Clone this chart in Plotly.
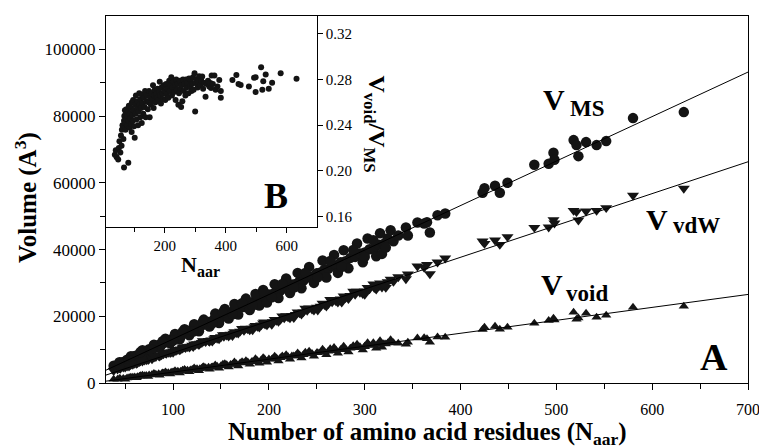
import plotly.graph_objects as go
import numpy as np

# ---------------- data ----------------
n_res_mid = [38, 42, 45, 48, 52, 55, 58, 60, 63, 65, 68, 70, 72, 75, 78, 80, 82, 85, 88, 90,
             93, 95, 98, 100, 103, 105, 108, 110, 113, 115, 118, 120, 123, 125, 128, 130, 134, 137, 140, 143,
             146, 150, 153, 156, 160, 163, 166, 170, 174, 178, 182, 185, 188, 192, 196, 200, 204, 208, 212, 216,
             220, 224, 228, 232, 236, 240, 245, 250, 254, 258, 262, 266, 270, 275, 280, 285, 290, 295, 300, 305,
             310, 315, 320, 324, 330]
ms_mid = [5200, 5400, 6100, 6300, 7000, 7200, 7800, 8100, 8200, 8800, 9000, 9400, 9300, 10100, 10200, 10800, 10700, 11400, 11500, 12100,
          12200, 12800, 12900, 13400, 13600, 14100, 14200, 14800, 14900, 15400, 15500, 16100, 16200, 16700, 16800, 17400, 17600, 18300, 18400, 19100,
          19200, 19900, 20000, 20800, 21000, 21700, 21800, 22600, 22800, 23600, 23800, 24500, 24600, 25500, 25700, 26500, 26700, 27500, 27700, 28500,
          28700, 29500, 29700, 30500, 30700, 31600, 31900, 32900, 33100, 34000, 34200, 35100, 35300, 36200, 36500, 37500, 37800, 38800, 39100, 40100,
          40400, 41400, 41700, 43300, 42500]
vdw_mid = [3700, 4150, 4350, 4750, 5000, 5400, 5550, 5850, 6050, 6350, 6500, 6800, 6900, 7300, 7450, 7750, 7850, 8200, 8400, 8700,
           8850, 9150, 9300, 9550, 9700, 10000, 10150, 10400, 10550, 10850, 11000, 11250, 11400, 11700, 11850, 12100, 12350, 12700, 12850, 13200,
           13350, 13800, 13950, 14300, 14550, 14900, 15050, 15500, 15750, 16200, 16400, 16800, 16950, 17350, 17600, 18050, 18300, 18750, 19000, 19500,
           19750, 20200, 20500, 20950, 21250, 21750, 22100, 22700, 23000, 23450, 23750, 24250, 24550, 25150, 25550, 26150, 26550, 27150, 27550, 28150,
           28550, 29150, 29550, 30300, 30400]
void_mid = [1100, 1150, 1300, 1350, 1500, 1550, 1700, 1800, 1850, 2000, 2100, 2200, 2250, 2400, 2450, 2600, 2600, 2750, 2800, 2950,
            3000, 3100, 3200, 3300, 3350, 3500, 3550, 3650, 3700, 3850, 3900, 4050, 4100, 4250, 4300, 4450, 4550, 4700, 4750, 4950,
            5000, 5200, 5250, 5450, 5550, 5750, 5800, 6000, 6100, 6300, 6400, 6600, 6650, 6900, 7000, 7200, 7300, 7500, 7600, 7800,
            7900, 8100, 8200, 8400, 8500, 8700, 8850, 9100, 9200, 9400, 9500, 9700, 9800, 10050, 10200, 10450, 10600, 10850, 11000, 11250,
            11400, 11650, 11800, 12000, 12100]

n_res_low = [50, 62, 74, 86, 97, 107, 117, 127, 138, 148, 158, 168, 180, 190, 198, 210, 222, 234, 247, 260, 272, 283, 298, 312, 318]
ms_low = [6000, 7700, 9100, 10600, 11900, 13100, 14300, 15500, 16900, 18000, 19300, 20500, 21900, 23200, 24100, 25500, 27000, 28400,
          30000, 31600, 33000, 34400, 36200, 38000, 38700]
vdw_low = [4730, 5850, 6970, 8040, 9070, 9900, 10680, 11500, 12430, 13210, 14040, 14920, 15890, 16720, 17360, 18430, 19500, 20570,
           21790, 23010, 24180, 25250, 26720, 28080, 28670]
void_low = [1150, 1550, 1950, 2350, 2700, 3000, 3400, 3700, 4100, 4400, 4800, 5100, 5600, 5900, 6200, 6600, 7100, 7500,
            8000, 8500, 8900, 9300, 9900, 10400, 10700]

n_res_high = [56, 68, 80, 92, 102, 112, 122, 132, 144, 154, 164, 176, 186, 194, 206, 218, 230, 242, 256, 268, 278, 292, 303, 316, 327]
ms_high = [8000, 9800, 11500, 13300, 14700, 16100, 17600, 19000, 20800, 22200, 23700, 25300, 26700, 27900, 29600, 31300, 33000, 34800,
           36700, 38400, 39800, 41800, 43300, 44900, 45800]
vdw_high = [5540, 6710, 7890, 9020, 9890, 10760, 11630, 12510, 13580, 14450, 15320, 16350, 17170, 17940, 19010, 20090, 21220, 22450,
            23830, 25010, 26040, 27470, 28600, 29930, 31060]
void_high = [1700, 2300, 2850, 3300, 3700, 4050, 4500, 4900, 5400, 5750, 6300, 6700, 7250, 7550, 8000, 8500, 9000, 9500,
             10100, 10650, 11000, 11650, 12100, 12650, 13000]

n_res_alt = [44, 54, 66, 78, 89, 100, 110, 121, 131, 141, 152, 162, 172, 183, 195, 203, 214, 226, 238, 251, 264, 276, 288, 300, 309, 322]
ms_alt = [6200, 6900, 9300, 10000, 12500, 12700, 15400, 15400, 18300, 17900, 21200, 20600, 23900, 23200, 27100, 25700, 29700, 28600,
          33000, 31700, 36600, 34800, 39900, 37800, 42800, 40600]
vdw_alt = [4470, 5040, 6600, 7200, 8890, 9120, 10760, 10850, 12640, 12480, 14460, 14160, 16280, 15890, 18250, 17520, 20070, 19540,
           22360, 21840, 24960, 24190, 27460, 26500, 29640, 28610]
void_alt = [1350, 1550, 2200, 2450, 3000, 3200, 3800, 4000, 4700, 4800, 5600, 5600, 6400, 6400, 7300, 7100, 8100, 8100,
            9200, 9100, 10300, 10000, 11200, 10900, 12100, 11700]

n_res_big = [335, 343, 345, 355, 362, 365, 368, 376, 384, 423, 425, 436, 441, 449, 477, 492, 497, 498, 518, 521, 523, 531, 542, 552, 580, 633]
ms_big = [44200, 46600, 44200, 48100, 47800, 48200, 45100, 50300, 50800, 57000, 58400, 59100, 57000, 60000, 65400, 65700, 69000, 66900,
          72800, 71300, 68000, 72200, 71300, 72500, 79400, 81200]
vdw_big = [31800, 31200, 32600, 35000, 34600, 35500, 32700, 36200, 37400, 42500, 41800, 42800, 41500, 43800, 46600, 46700, 48900, 47900,
           51700, 51300, 48800, 51500, 51700, 52500, 56200, 58300]
void_big = [11900, 11600, 12200, 13500, 13600, 13300, 12200, 13800, 13700, 16000, 16700, 17000, 16100, 16700, 17900, 18700, 19400, 18900,
            21200, 19100, 19500, 20900, 19700, 20300, 22700, 23000]

inset_n = [37, 40, 43, 48, 50, 52, 55, 57, 59, 60, 62, 64, 65, 67, 67, 68, 70, 70, 72, 73, 75, 75, 77, 78, 80, 81, 82, 83, 85, 86,
           88, 90, 90, 92, 93, 95, 96, 97, 98, 100, 102, 103, 105, 106, 108, 110, 111, 113, 115, 117, 118, 120, 121, 123, 125, 126, 128, 130,
           132, 134, 136, 138, 140, 142, 145, 147, 149, 151, 153, 155, 157, 160, 162, 164, 166, 168, 170, 172, 175, 177, 180, 182, 184, 186,
           188, 190, 193, 195, 197, 200, 202, 205, 207, 210, 212, 215, 217, 220, 222, 224, 226, 229, 231, 234, 236, 238, 240, 243, 245, 247,
           250, 252, 254, 256, 258, 260, 263, 265, 268, 270, 272, 275, 278, 280, 283, 286, 288, 290, 293, 295, 298, 300, 302, 305, 308, 310,
           313, 316, 320, 323, 326, 330, 334, 338, 342, 346, 350, 352, 354, 358, 363, 367, 373, 379, 384, 384,
           422, 435, 442, 449, 476, 493, 498, 498, 516, 520, 523, 531, 541, 552, 580, 632]
inset_ratio = [0.214, 0.218, 0.212, 0.210, 0.220, 0.226, 0.216, 0.231, 0.222, 0.236, 0.240, 0.238, 0.228, 0.203, 0.244, 0.248, 0.253, 0.242,
               0.236, 0.250, 0.254, 0.245, 0.240, 0.248, 0.252, 0.207, 0.244, 0.257, 0.238, 0.250,
               0.246, 0.255, 0.241, 0.234, 0.260, 0.249, 0.244, 0.262, 0.253, 0.239, 0.229, 0.258, 0.250, 0.266, 0.245, 0.255, 0.261, 0.240,
               0.252, 0.268, 0.258, 0.247, 0.263, 0.255, 0.242, 0.267, 0.259, 0.250,
               0.264, 0.256, 0.270, 0.247, 0.261, 0.266, 0.254, 0.260, 0.270, 0.247, 0.264, 0.258, 0.268, 0.262, 0.275, 0.255, 0.266, 0.271,
               0.260, 0.267, 0.264, 0.272, 0.262, 0.269, 0.278, 0.266,
               0.259, 0.273, 0.268, 0.263, 0.275, 0.270, 0.262, 0.276, 0.267, 0.272, 0.264, 0.279, 0.270, 0.275, 0.282, 0.266, 0.273, 0.278,
               0.269, 0.275, 0.262, 0.280, 0.271, 0.276, 0.258, 0.268,
               0.279, 0.272, 0.256, 0.275, 0.261, 0.280, 0.270, 0.276, 0.266, 0.280, 0.273, 0.277, 0.268, 0.281, 0.274, 0.279, 0.270, 0.276,
               0.282, 0.271, 0.2855, 0.252, 0.277, 0.280, 0.273, 0.278,
               0.283, 0.275, 0.279, 0.2826, 0.272, 0.277, 0.265, 0.276, 0.279, 0.274, 0.277, 0.2727, 0.2835, 0.276, 0.2835, 0.271, 0.274,
               0.2797, 0.270, 0.264,
               0.2797, 0.284, 0.2762, 0.2753, 0.274, 0.2815, 0.282, 0.269, 0.2908, 0.271, 0.2785, 0.2844, 0.2719, 0.2771, 0.2855, 0.2806]

x_tick_vals = [100, 200, 300, 400, 500, 600, 700]
x_minor_vals = [50, 150, 250, 350, 450, 550, 650]
y_tick_vals = [0, 20000, 40000, 60000, 80000, 100000]
y_tick_text = ["0", "20000", "40000", "60000", "80000", "100000"]
y_minor_vals = [10000, 30000, 50000, 70000, 90000]
inset_x_ticks = [200, 400, 600]
inset_x_minor = [100, 300, 500]
inset_y_ticks = [0.16, 0.20, 0.24, 0.28, 0.32]
inset_y_text = ["0.16", "0.20", "0.24", "0.28", "0.32"]

# ---------------- assemble ----------------
groups = [(n_res_mid, ms_mid, vdw_mid, void_mid), (n_res_low, ms_low, vdw_low, void_low),
          (n_res_high, ms_high, vdw_high, void_high), (n_res_alt, ms_alt, vdw_alt, void_alt),
          (n_res_big, ms_big, vdw_big, void_big)]
for grp in groups:
    assert len(set(len(g) for g in grp)) == 1, [len(g) for g in grp]
assert len(inset_n) == len(inset_ratio), (len(inset_n), len(inset_ratio))

n_res = np.array(sum((g[0] for g in groups), []), dtype=float)
v_ms = np.array(sum((g[1] for g in groups), []), dtype=float)
v_vdw = np.array(sum((g[2] for g in groups), []), dtype=float)
v_void = np.array(sum((g[3] for g in groups), []), dtype=float)

XR = [30, 700]
fit_x = np.array(XR, dtype=float)

INK = "#141414"
FONT = "Liberation Serif"

fig = go.Figure()
for yv, sym, sz in [(v_ms, "circle", 10.5), (v_vdw, "triangle-down", 10.5), (v_void, "triangle-up", 9)]:
    fig.add_trace(go.Scatter(x=n_res, y=yv, mode="markers",
                             marker=dict(symbol=sym, size=sz, color=INK, line=dict(width=0)),
                             showlegend=False, xaxis="x", yaxis="y"))
for yv in [v_ms, v_vdw, v_void]:
    k, b = np.polyfit(n_res, yv, 1)
    fig.add_trace(go.Scatter(x=fit_x, y=k * fit_x + b, mode="lines",
                             line=dict(color="black", width=1), showlegend=False,
                             xaxis="x", yaxis="y"))

fig.add_trace(go.Scatter(x=inset_n, y=inset_ratio, mode="markers",
                         marker=dict(symbol="circle", size=6, color=INK, line=dict(width=0)),
                         showlegend=False, xaxis="x2", yaxis="y2"))

# ---------------- layout ----------------
# The page body has an 8px default margin, so the figure is sized to the window minus that.
OFF = 8
WIN_W, WIN_H = 767, 448
W, H = WIN_W - OFF, WIN_H - OFF
# plot area in window pixels
PL, PR, PT, PB = 106, 752, 15, 383
PW, PH = PR - PL, PB - PT
margin = dict(l=PL - OFF, r=WIN_W - PR, t=PT - OFF, b=WIN_H - PB)


def px(xp):
    return (xp - PL) / PW


def py(yp):
    return (PB - yp) / PH


inset_right = 318
inset_bottom = 227

axis_common = dict(showline=True, linecolor="black", linewidth=1, showgrid=False, zeroline=False,
                   ticks="outside", tickcolor="black", tickwidth=1)

fig.update_layout(
    width=W, height=H, margin=margin,
    paper_bgcolor="white", plot_bgcolor="white",
    font=dict(family=FONT, color="black"),
    xaxis=dict(**axis_common, range=XR, domain=[0, 1], mirror=True, ticklen=6,
               tickvals=x_tick_vals, tickfont=dict(size=16, family=FONT),
               minor=dict(tickvals=x_minor_vals, ticks="outside", ticklen=5, tickcolor="black", tickwidth=1),
               ticklabelstandoff=6),
    yaxis=dict(**axis_common, range=[0, 110000], domain=[0, 1], mirror=True, ticklen=6,
               tickvals=y_tick_vals, ticktext=y_tick_text, tickfont=dict(size=17, family=FONT),
               minor=dict(tickvals=y_minor_vals, ticks="outside", ticklen=5, tickcolor="black", tickwidth=1)),
    xaxis2=dict(**axis_common, range=[8, 698], domain=[0, px(inset_right)], anchor="y2", mirror=True, ticklen=5,
                tickvals=inset_x_ticks, tickfont=dict(size=15, family=FONT),
                minor=dict(tickvals=inset_x_minor, ticks="outside", ticklen=4, tickcolor="black", tickwidth=1)),
    yaxis2=dict(**axis_common, range=[0.1504, 0.3357], domain=[py(inset_bottom), 1], anchor="x2", side="right",
                mirror=True, ticklen=5, tickvals=inset_y_ticks, ticktext=inset_y_text,
                tickfont=dict(size=15, family=FONT)),
)


def note(text, xp, yp, size, angle=0, bold=True):
    fig.add_annotation(text=("<b>%s</b>" % text) if bold else text, x=px(xp), y=py(yp),
                       xref="paper", yref="paper", showarrow=False, xanchor="center", yanchor="middle",
                       textangle=angle, font=dict(family=FONT, size=size, color="black"))


# series labels
note("V", 557, 99, 30)
note("MS", 590, 108, 23)
note("V", 660, 219, 30)
note("vdW", 700, 225, 23)
note("V", 555, 284, 30)
note("void", 590, 293, 23)
# panel letters
note("A", 718, 357, 38)
note("B", 277, 195, 36)
# inset axis titles
note("N", 190, 264, 22)
note("aar", 209, 271, 16)
note("V<sub>void</sub>/V<sub>MS</sub>", 377, 123, 24, angle=90)
# main axis titles
note("Volume (A<sup>3</sup>)", 26, 197, 25, angle=-90)
note("Number of amino acid residues (N<sub>aar</sub>)", 430, 434, 25)

fig.write_html("out.html")
